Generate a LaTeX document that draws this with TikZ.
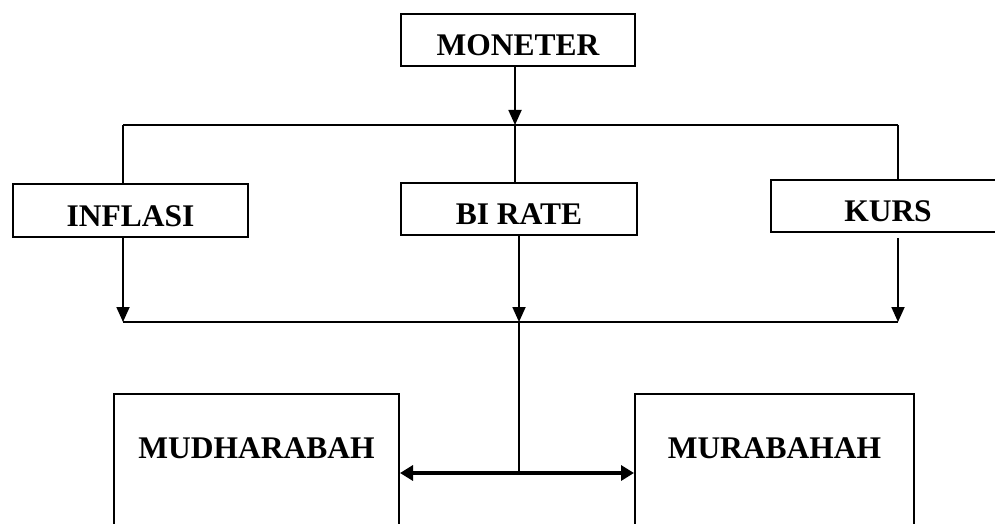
\documentclass[tikz,border=0pt]{standalone}
\usepackage{fontspec}
\setmainfont{Liberation Serif}
\usetikzlibrary{arrows.meta}
\tikzset{
  box/.style={draw, line width=2pt, inner sep=0pt, anchor=base,
    font=\fontsize{31.5}{36}\selectfont\bfseries},
  conn/.style={line width=1.8pt},
  arr/.style={conn, -{Triangle[length=15pt,width=13pt]}},
  dbl/.style={line width=4pt, {Triangle[length=13pt,width=15pt]}-{Triangle[length=13pt,width=15pt]}}
}
\begin{document}
\begin{tikzpicture}[x=1pt,y=-1pt]
\path[use as bounding box] (0,0) rectangle (995,524);
\clip (0,0) rectangle (995,524);
\node[box, minimum width=234pt, text height=42pt, text depth=10pt] (mon) at (518,56) {MONETER};
\node[box, minimum width=235pt, text height=42pt, text depth=11pt] (inf) at (130.5,226) {INFLASI};
\node[box, minimum width=236pt, text height=41pt, text depth=11pt] (bir) at (519,224) {BI RATE};
\node[box, minimum width=234pt, text height=41pt, text depth=11pt] (kurs) at (888,221) {KURS};
\node[box, minimum width=285pt, text height=64pt, text depth=82pt] (mud) at (256.5,458) {MUDHARABAH};
\node[box, minimum width=279pt, text height=64pt, text depth=82pt] (mur) at (774.5,458) {MURABAHAH};
\coordinate (tl) at (123,125);
\coordinate (tm) at (515,125);
\coordinate (tr) at (898,125);
\coordinate (bl) at (123,322);
\coordinate (bm) at (519,322);
\coordinate (br) at (898,322);
\coordinate (bb) at (519,473);
\draw[arr] (mon.south -| tm) -- (tm);
\draw[conn] (tl) -- (tr);
\draw[conn] (tl) -- (tl |- inf.north);
\draw[conn] (tm) -- (tm |- bir.north);
\draw[conn] (tr) -- (tr |- kurs.north);
\draw[arr] (inf.south -| bl) -- (bl);
\draw[arr] (bir.south -| bm) -- (bm);
\draw[arr] ([yshift=-5pt]kurs.south -| br) -- (br);
\draw[conn] (bl) -- (br);
\draw[conn] (bm) -- (bb);
\draw[dbl] (mud.east |- bb) -- (mur.west |- bb);
\end{tikzpicture}
\end{document}
